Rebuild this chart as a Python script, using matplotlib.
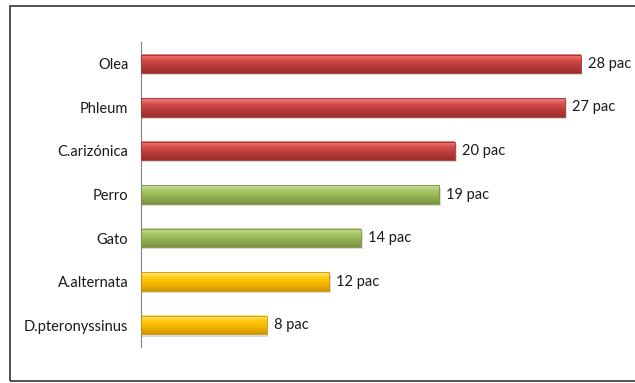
import numpy as np
import matplotlib
matplotlib.use("Agg")
import matplotlib.pyplot as plt
from matplotlib.colors import LinearSegmentedColormap
from matplotlib.patches import Rectangle

categories = ["Olea", "Phleum", "C.arizónica", "Perro", "Gato", "A.alternata", "D.pteronyssinus"]
values = [28, 27, 20, 19, 14, 12, 8]
groups = ["red", "red", "red", "green", "green", "yellow", "yellow"]
value_labels = ["28 pac", "27 pac", "20 pac", "19 pac", "14 pac", "12 pac", "8 pac"]

# light top -> mid -> dark bottom for each bar colour
shades = {
    "red":    ["#F08584", "#D44B49", "#B53A38", "#9E2F2D"],
    "green":  ["#C9E09A", "#A6C564", "#8FAE50", "#789340"],
    "yellow": ["#FFE680", "#FFC80A", "#F2B400", "#CC9600"],
}

plt.rcParams["font.family"] = ["Lato", "DejaVu Sans"]

fig = plt.figure(figsize=(6.35, 3.83), dpi=100)
ax = fig.add_axes([0.222, 0.094, 0.7417, 0.7963])

y = np.arange(len(categories))
bar_h = 0.42
bars = ax.barh(y, values, height=bar_h, color="none", edgecolor="none", zorder=2)

grad = np.linspace(0, 1, 64).reshape(-1, 1)
for b, g in zip(bars, groups):
    cmap = LinearSegmentedColormap.from_list(g, shades[g])
    x0, y0 = b.get_x(), b.get_y()
    w, h = b.get_width(), b.get_height()
    # soft shadow under the bar
    ax.add_patch(Rectangle((x0, y0 + 0.05), w + 0.12, h, color="#bbbbbb", alpha=0.5, zorder=1, lw=0))
    # y axis is inverted: first gradient row goes to the top of the bar
    ax.imshow(grad, cmap=cmap, aspect="auto", extent=(x0, x0 + w, y0 + h, y0),
              origin="upper", zorder=2, interpolation="bilinear")
    ax.add_patch(Rectangle((x0, y0), w, h, fill=False, edgecolor=shades[g][3], lw=0.6, zorder=3))

for yi, v, lab in zip(y, values, value_labels):
    ax.text(v + 0.45, yi, lab, va="center", ha="left", fontsize=10.5, color="#1a1a1a")

ax.set_xlim(0, 30)
ax.set_ylim(len(categories) - 0.5, -0.5)
ax.set_yticks(y)
ax.set_yticklabels(categories, fontsize=10.5, color="#1a1a1a")
ax.tick_params(axis="y", length=0, pad=9)
ax.set_xticks([])
for s in ["top", "right", "bottom"]:
    ax.spines[s].set_visible(False)
ax.spines["left"].set_color("#808080")
ax.spines["left"].set_linewidth(0.8)

fig.add_artist(Rectangle((10 / 635, 2 / 383), 1.0, 1 - 8 / 383, transform=fig.transFigure,
                         fill=False, edgecolor="#333333", lw=1.2))

fig.savefig("out.png", dpi=100)
